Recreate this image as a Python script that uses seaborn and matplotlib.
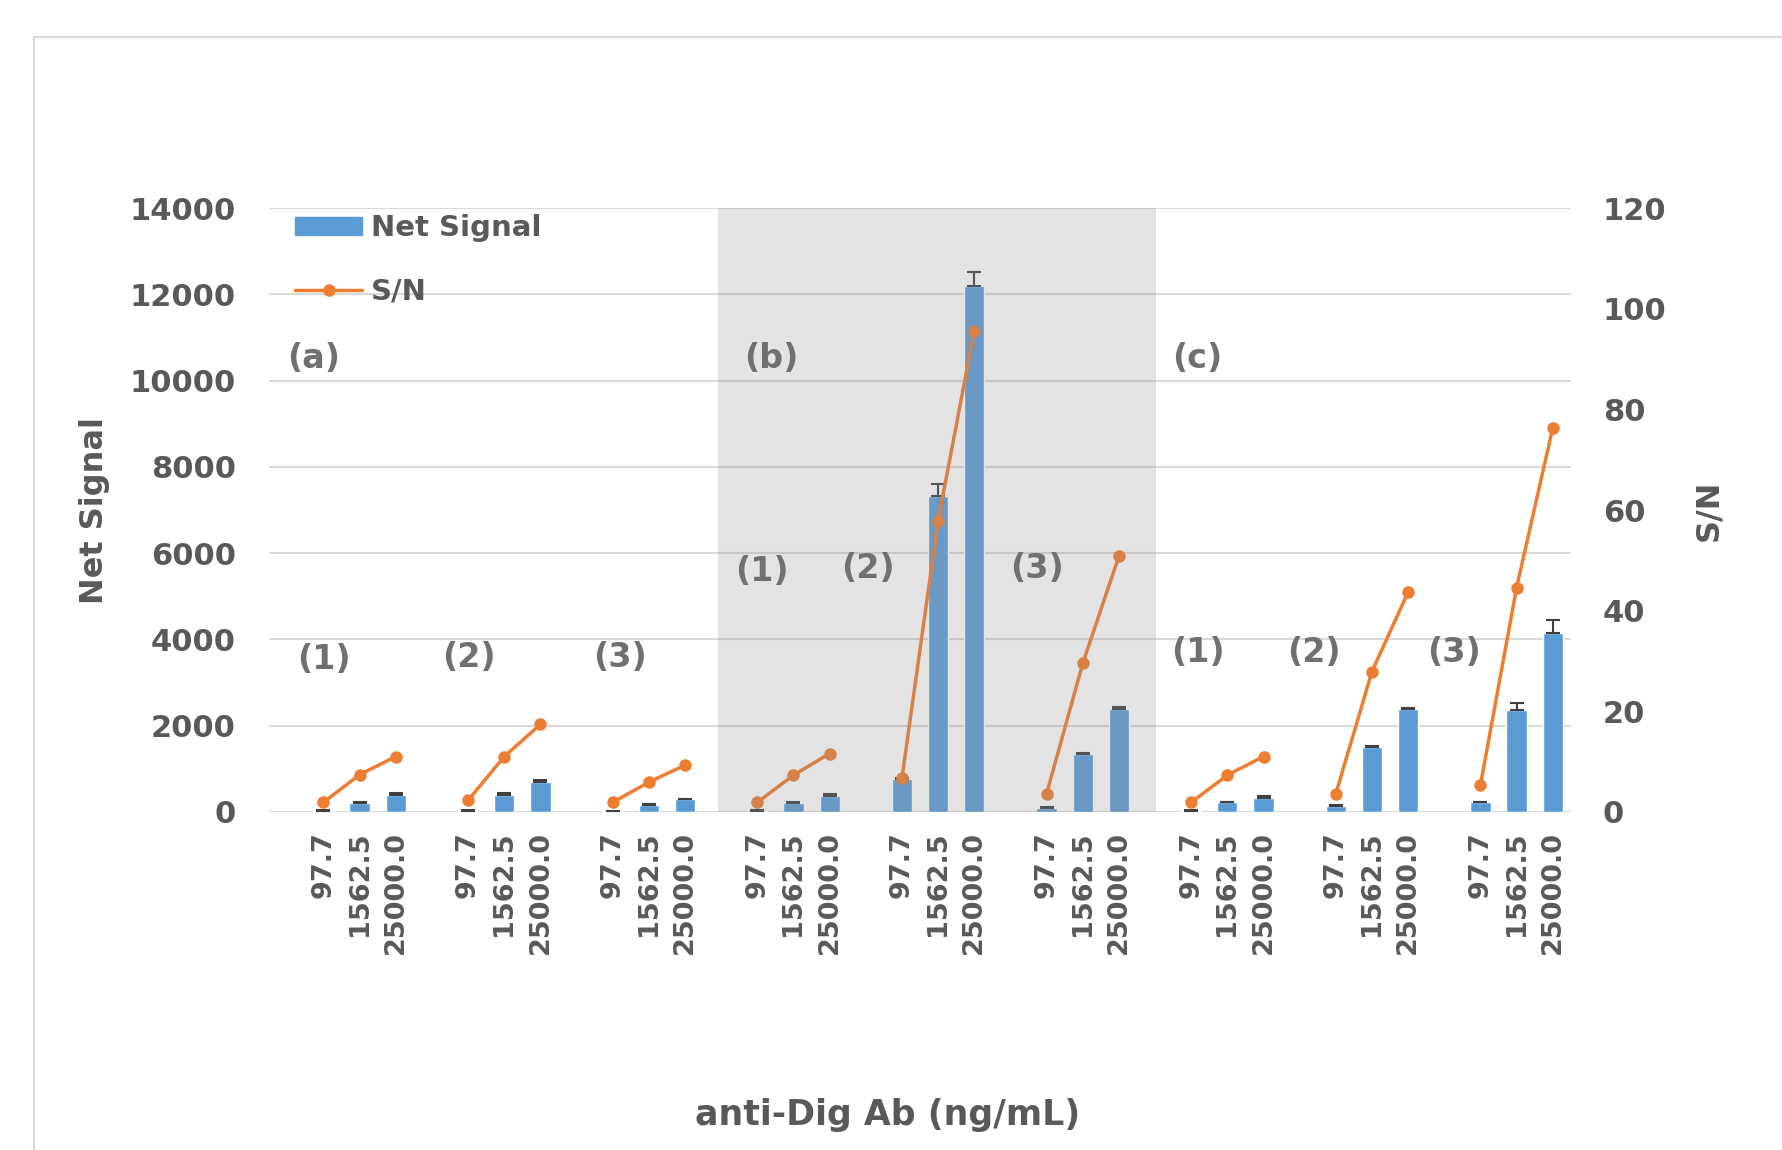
import numpy as np
import pandas as pd
import matplotlib.pyplot as plt
import seaborn as sns
from matplotlib.patches import Patch, Rectangle
from matplotlib.lines import Line2D

# datos
concs = ['97.7', '1562.5', '25000.0']
panels = ['(a)', '(b)', '(c)']
conditions = ['(1)', '(2)', '(3)']

net_signal = [30, 210, 400, 30, 390, 690, 20, 170, 290,
              30, 200, 380, 760, 7320, 12190, 100, 1350, 2390,
              30, 220, 330, 140, 1510, 2390, 220, 2370, 4160]
net_err = [10, 30, 40, 10, 40, 40, 10, 20, 20,
           10, 20, 30, 30, 280, 340, 10, 20, 40,
           10, 20, 30, 10, 20, 30, 20, 150, 280]
sn = [1.9, 7.4, 11.0, 2.3, 11.0, 17.4, 1.9, 5.9, 9.3,
      1.9, 7.3, 11.6, 6.7, 57.9, 95.6, 3.6, 29.5, 50.8,
      1.9, 7.3, 11.0, 3.6, 27.9, 43.7, 5.3, 44.6, 76.3]

BLUE = '#5B9BD5'
ORANGE = '#ED7D31'
GRAY = '#595959'

sns.set_style('white')
plt.rcParams['font.family'] = ['DejaVu Sans']
plt.rcParams['font.weight'] = 'bold'

# 9 grupos de 3 concentraciones, con un hueco antes de cada grupo
df = pd.DataFrame({
    'group': np.repeat(np.arange(9), 3),
    'conc': concs * 9,
    'signal': net_signal,
    'err': net_err,
    'sn': sn,
})
df['pos'] = df['group'] * 4 + np.tile([1, 2, 3], 9)

fig = plt.figure(figsize=(17.83, 11.5), dpi=100)
ax = fig.add_axes([0.151, 0.294, 0.730, 0.525])

sns.barplot(data=df, x='pos', y='signal', native_scale=True, width=0.56,
            color=BLUE, saturation=1, errorbar=None, ax=ax, zorder=2)
ax.errorbar(df['pos'], df['signal'], yerr=[np.zeros(len(df)), df['err']],
            fmt='none', ecolor='#404040', elinewidth=1.5, capsize=5,
            capthick=1.5, zorder=3)

ax.set_xlim(-0.5, 35.5)
ax.set_ylim(0, 14000)
ax.set_yticks(range(0, 14001, 2000))
ax.yaxis.grid(True, color='#d9d9d9', lw=1.5)
ax.set_axisbelow(True)
ax.set_xticks(df['pos'])
ax.set_xticklabels(df['conc'], rotation=90, va='top')
ax.tick_params(axis='x', length=0, pad=14, labelsize=19.5, labelcolor=GRAY)
ax.tick_params(axis='y', length=0, pad=24, labelsize=22, labelcolor=GRAY)
for s in ax.spines.values():
    s.set_visible(False)

ax.set_ylabel('Net Signal', fontsize=23, color=GRAY, fontweight='bold')
ax.yaxis.set_label_coords(-0.134, 0.5)
ax.yaxis.label.set_va('center')
ax.set_xlabel('anti-Dig Ab (ng/mL)', fontsize=25, color=GRAY, fontweight='bold')
ax.xaxis.set_label_coords(0.475, -0.502)
ax.xaxis.label.set_va('center')

# eje secundario S/N
ax2 = ax.twinx()
sns.lineplot(data=df, x='pos', y='sn', units='group', estimator=None,
             color=ORANGE, lw=2.5, marker='o', markersize=9,
             markeredgewidth=0, ax=ax2, legend=False, zorder=2)
ax2.set_ylim(0, 120)
ax2.set_yticks(range(0, 121, 20))
ax2.tick_params(axis='y', length=0, pad=23, labelsize=22, labelcolor=GRAY)
for s in ax2.spines.values():
    s.set_visible(False)
ax2.set_ylabel('S/N', fontsize=23, color=GRAY, fontweight='bold', rotation=90)
ax2.yaxis.set_label_coords(1.1056, 0.5)
ax2.yaxis.label.set_va('center')

# zona sombreada (b)
ax2.axvspan(11.92, 24.03, color='#909090', alpha=0.25, lw=0, zorder=3)

# etiquetas de paneles y condiciones
panel_xy = [(0.73, 10520), (13.4, 10520), (25.16, 10520)]
cond_xy = [[(1.01, 3533), (5.03, 3586), (9.19, 3586)],
           [(13.12, 5563), (16.07, 5642), (20.73, 5642)],
           [(25.19, 3691), (28.4, 3691), (32.27, 3691)]]
for p, (x, y) in zip(panels, panel_xy):
    ax2.text(x, y, p, transform=ax.transData, ha='center', va='center',
             fontsize=24, color='#707070', fontweight='bold', zorder=5)
for row in cond_xy:
    for c, (x, y) in zip(conditions, row):
        ax2.text(x, y, c, transform=ax.transData, ha='center', va='center',
                 fontsize=24, color='#707070', fontweight='bold', zorder=5)

handles = [Patch(color=BLUE, label='Net Signal'),
           Line2D([], [], color=ORANGE, lw=2.5, marker='o', markersize=9,
                  markeredgewidth=0, label='S/N')]
leg = ax2.legend(handles=handles, loc='upper left', bbox_to_anchor=(0.02, 0.99),
                 frameon=False, prop={'size': 21, 'weight': 'bold'},
                 labelcolor=GRAY, handlelength=2.3, handleheight=0.55,
                 labelspacing=1.2, handletextpad=0.3, borderaxespad=0,
                 borderpad=0)
leg.set_zorder(6)

# marco del grafico (recortado a la derecha y abajo)
fig.patches.append(Rectangle((34 / 1783, -0.05), 1.0, (1150 - 37) / 1150 + 0.05,
                             transform=fig.transFigure, fill=False,
                             ec='#d9d9d9', lw=1.5, clip_on=False))

fig.savefig('out.png', dpi=100)
